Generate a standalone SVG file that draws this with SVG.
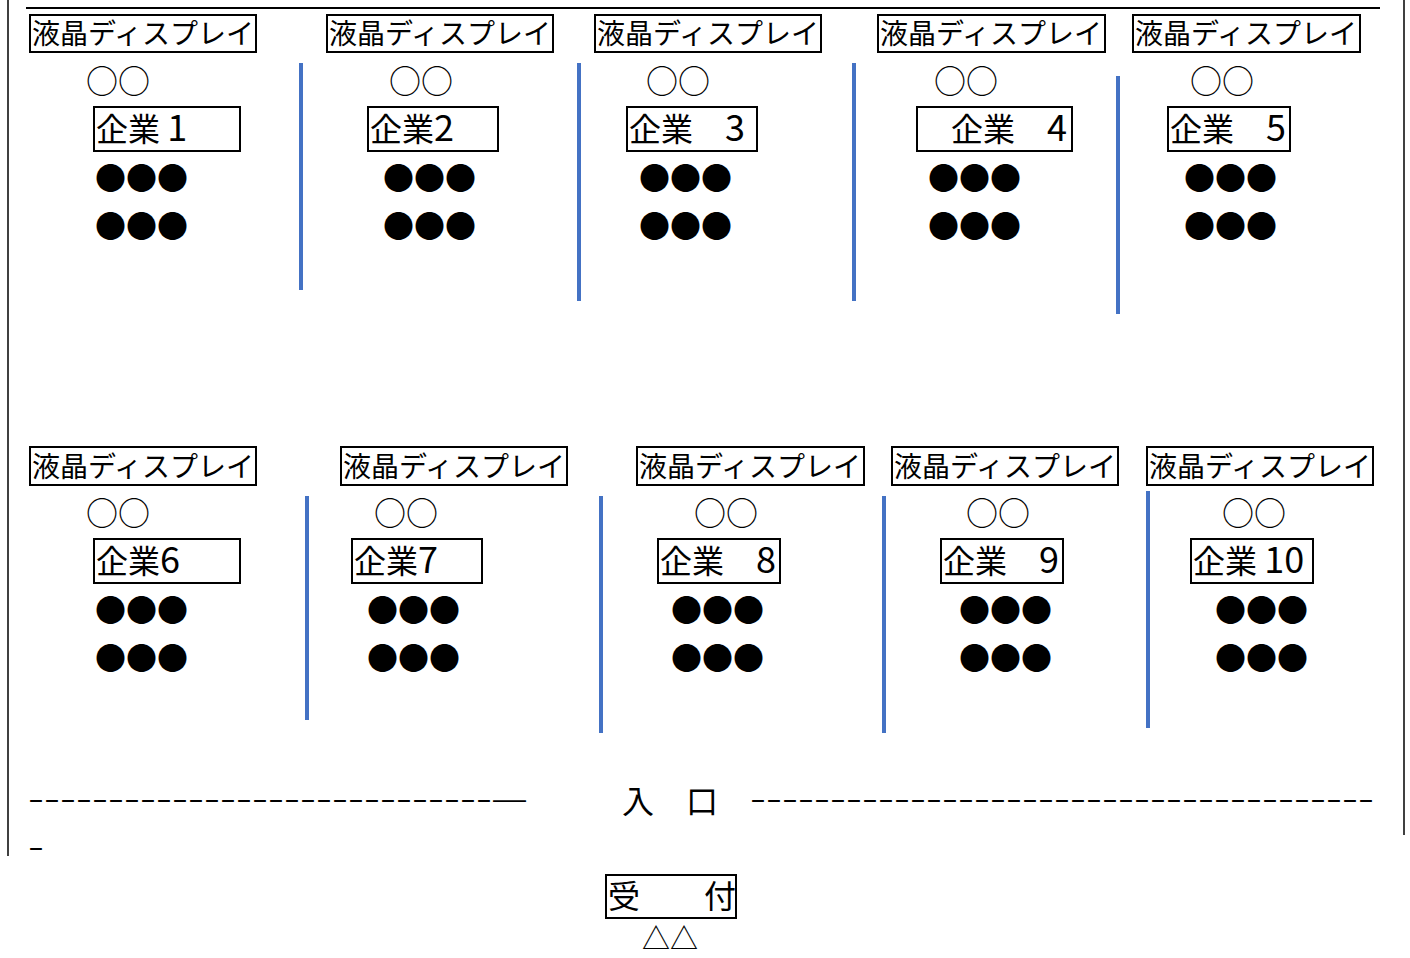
<svg xmlns="http://www.w3.org/2000/svg" width="1410" height="958" viewBox="0 0 1410 958">
<style>
text{font-family:"Noto Sans CJK JP","Noto Sans",sans-serif;fill:#000}
.box{fill:#fff;stroke:#000;stroke-width:2}
.disp{font-size:28px}
.oo{font-size:32px}
.co{font-size:32px}
.dig{font-size:36px}
.dots{font-size:31px}
.div{stroke:#4472C4;stroke-width:4;fill:none}
.frame{stroke:#000;fill:none}
.dash{font-family:"Liberation Sans",Arial,sans-serif;font-size:26px}
.tri{font-size:28px}
</style>
<rect width="1410" height="958" fill="#fff"/>
<g id="frame">
<line class="frame" x1="26" y1="8" x2="1380" y2="8" stroke-width="2"/>
<line class="frame" x1="8" y1="0" x2="8" y2="856" stroke-width="1.5" stroke="#333"/>
<line class="frame" x1="1404" y1="0" x2="1404" y2="835" stroke-width="1.5" stroke="#333"/>
</g>
<g id="connectors">
<line class="div" x1="301" y1="63" x2="301" y2="290"/>
<line class="div" x1="579" y1="63" x2="579" y2="301"/>
<line class="div" x1="854" y1="63" x2="854" y2="301"/>
<line class="div" x1="1118" y1="76" x2="1118" y2="314"/>
<line class="div" x1="307" y1="496" x2="307" y2="720"/>
<line class="div" x1="601" y1="496" x2="601" y2="733"/>
<line class="div" x1="884" y1="496" x2="884" y2="733"/>
<line class="div" x1="1148" y1="491" x2="1148" y2="728"/>
</g>
<g id="booth1">
<rect class="box" x="30" y="15" width="226" height="37"/>
<text class="disp" x="32" y="44">液晶ディスプレイ</text>
<text class="oo" x="86" y="93">○○</text>
<rect class="box" x="94" y="107" width="146" height="44"/>
<text class="co" x="96" y="141">企業 <tspan class="dig">1</tspan></text>
<text class="dots" x="95" y="189">●●●</text>
<text class="dots" x="95" y="237">●●●</text>
</g>
<g id="booth2">
<rect class="box" x="327" y="15" width="226" height="37"/>
<text class="disp" x="329" y="44">液晶ディスプレイ</text>
<text class="oo" x="389" y="93">○○</text>
<rect class="box" x="368" y="107" width="130" height="44"/>
<text class="co" x="370" y="141">企業<tspan class="dig">2</tspan></text>
<text class="dots" x="383" y="189">●●●</text>
<text class="dots" x="383" y="237">●●●</text>
</g>
<g id="booth3">
<rect class="box" x="595" y="15" width="226" height="37"/>
<text class="disp" x="597" y="44">液晶ディスプレイ</text>
<text class="oo" x="646" y="93">○○</text>
<rect class="box" x="627" y="107" width="130" height="44"/>
<text class="co" x="629" y="141">企業　<tspan class="dig">3</tspan></text>
<text class="dots" x="639" y="189">●●●</text>
<text class="dots" x="639" y="237">●●●</text>
</g>
<g id="booth4">
<rect class="box" x="878" y="15" width="227" height="37"/>
<text class="disp" x="880" y="44">液晶ディスプレイ</text>
<text class="oo" x="934" y="93">○○</text>
<rect class="box" x="917" y="107" width="155" height="44"/>
<text class="co" x="919" y="141">　企業　<tspan class="dig">4</tspan></text>
<text class="dots" x="928" y="189">●●●</text>
<text class="dots" x="928" y="237">●●●</text>
</g>
<g id="booth5">
<rect class="box" x="1133" y="15" width="227" height="37"/>
<text class="disp" x="1135" y="44">液晶ディスプレイ</text>
<text class="oo" x="1190" y="93">○○</text>
<rect class="box" x="1168" y="107" width="122" height="44"/>
<text class="co" x="1170" y="141">企業　<tspan class="dig">5</tspan></text>
<text class="dots" x="1184" y="189">●●●</text>
<text class="dots" x="1184" y="237">●●●</text>
</g>
<g id="booth6">
<rect class="box" x="30" y="447" width="226" height="38"/>
<text class="disp" x="32" y="477">液晶ディスプレイ</text>
<text class="oo" x="86" y="525">○○</text>
<rect class="box" x="94" y="539" width="146" height="44"/>
<text class="co" x="96" y="573">企業<tspan class="dig">6</tspan></text>
<text class="dots" x="95" y="621">●●●</text>
<text class="dots" x="95" y="669">●●●</text>
</g>
<g id="booth7">
<rect class="box" x="341" y="447" width="226" height="38"/>
<text class="disp" x="343" y="477">液晶ディスプレイ</text>
<text class="oo" x="374" y="525">○○</text>
<rect class="box" x="352" y="539" width="130" height="44"/>
<text class="co" x="354" y="573">企業<tspan class="dig">7</tspan></text>
<text class="dots" x="367" y="621">●●●</text>
<text class="dots" x="367" y="669">●●●</text>
</g>
<g id="booth8">
<rect class="box" x="637" y="447" width="227" height="38"/>
<text class="disp" x="639" y="477">液晶ディスプレイ</text>
<text class="oo" x="694" y="525">○○</text>
<rect class="box" x="658" y="539" width="122" height="44"/>
<text class="co" x="660" y="573">企業　<tspan class="dig">8</tspan></text>
<text class="dots" x="671" y="621">●●●</text>
<text class="dots" x="671" y="669">●●●</text>
</g>
<g id="booth9">
<rect class="box" x="892" y="447" width="226" height="38"/>
<text class="disp" x="894" y="477">液晶ディスプレイ</text>
<text class="oo" x="966" y="525">○○</text>
<rect class="box" x="941" y="539" width="122" height="44"/>
<text class="co" x="943" y="573">企業　<tspan class="dig">9</tspan></text>
<text class="dots" x="959" y="621">●●●</text>
<text class="dots" x="959" y="669">●●●</text>
</g>
<g id="booth10">
<rect class="box" x="1147" y="447" width="226" height="38"/>
<text class="disp" x="1149" y="477">液晶ディスプレイ</text>
<text class="oo" x="1222" y="525">○○</text>
<rect class="box" x="1191" y="539" width="122" height="44"/>
<text class="co" x="1193" y="573">企業 <tspan class="dig">10</tspan></text>
<text class="dots" x="1215" y="621">●●●</text>
<text class="dots" x="1215" y="669">●●●</text>
</g>
<g id="entrance">
<text class="dash" x="28" y="807.5" textLength="464" lengthAdjust="spacingAndGlyphs">-----------------------------</text>
<text class="dash" x="493" y="807.5" textLength="33" lengthAdjust="spacingAndGlyphs">—</text>
<text class="co" x="622" y="813">入　口</text>
<text class="dash" x="750" y="807.5" textLength="624" lengthAdjust="spacingAndGlyphs">---------------------------------------</text>
<text class="dash" x="28" y="855.5" textLength="16" lengthAdjust="spacingAndGlyphs">-</text>
</g>
<g id="reception">
<rect class="box" x="606" y="875" width="130" height="43"/>
<text class="co" x="608" y="908">受　　付</text>
<text class="tri" x="642" y="949">△△</text>
</g>
</svg>
